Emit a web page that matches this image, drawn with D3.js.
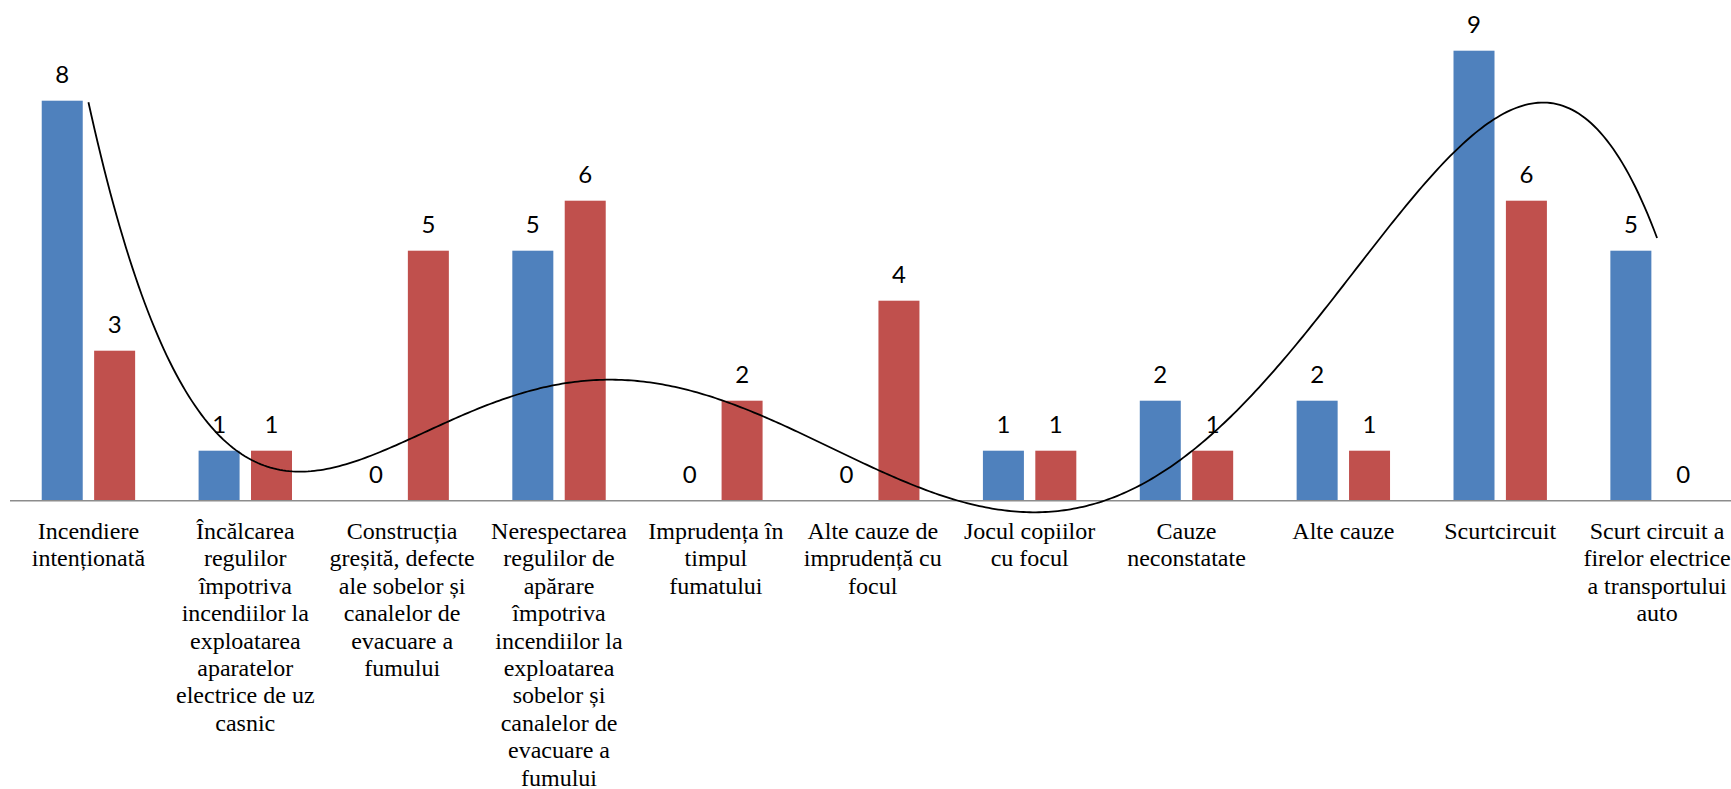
<!DOCTYPE html>
<html>
<head>
<meta charset="utf-8">
<script src="https://cdn.jsdelivr.net/npm/d3@7"></script>
<style>
  html, body { margin: 0; padding: 0; background: #fff; }
  svg { display: block; }
</style>
</head>
<body>
<svg id="chart" width="1731" height="789"></svg>
<script>
const categories = [
  "Incendiere\nintenționată",
  "Încălcarea\nregulilor\nîmpotriva\nincendiilor la\nexploatarea\naparatelor\nelectrice de uz\ncasnic",
  "Construcția\ngreșită, defecte\nale sobelor și\ncanalelor de\nevacuare a\nfumului",
  "Nerespectarea\nregulilor de\napărare\nîmpotriva\nincendiilor la\nexploatarea\nsobelor și\ncanalelor de\nevacuare a\nfumului",
  "Imprudența în\ntimpul\nfumatului",
  "Alte cauze de\nimprudență cu\nfocul",
  "Jocul copiilor\ncu focul",
  "Cauze\nneconstatate",
  "Alte cauze",
  "Scurtcircuit",
  "Scurt circuit a\nfirelor electrice\na transportului\nauto"
];
const seriesBlue = [8, 1, 0, 5, 0, 0, 1, 2, 2, 9, 5];
const seriesRed  = [3, 1, 5, 6, 2, 4, 1, 1, 1, 6, 0];
const seriesKeys = ["blue", "red"];
const seriesColors = ["#4F81BD", "#C0504D"];
const trendDegree = 6;

const svg = d3.select("#chart");
const plotLeft = 10, plotRight = 1735.5;
const y0 = 500.7, y9 = 50.7; // pixel rows for values 0 and 9

const x = d3.scaleBand().domain(categories).range([plotLeft, plotRight]).paddingInner(0).paddingOuter(0);
const xSub = d3.scalePoint().domain(seriesKeys).range([-26.2, 26.2]);
const barW = 41;
const y = d3.scaleLinear().domain([0, 9]).range([y0, y9]);

const data = [];
categories.forEach((c, i) => {
  [seriesBlue, seriesRed].forEach((s, k) => {
    data.push({cat: c, key: seriesKeys[k], value: s[i], color: seriesColors[k]});
  });
});

const cx = d => x(d.cat) + x.bandwidth() / 2 + xSub(d.key);

svg.append("g").selectAll("rect").data(data).join("rect")
  .attr("x", d => cx(d) - barW / 2)
  .attr("y", d => y(d.value))
  .attr("width", barW)
  .attr("height", d => y(0) - y(d.value))
  .attr("fill", d => d.color);

// axis
const axis = d3.axisBottom(x).tickSize(0).tickFormat("");
const gAx = svg.append("g").attr("transform", `translate(0,${y0})`).call(axis);
gAx.select(".domain").attr("stroke", "#8c8c8c").attr("stroke-width", 1.6).attr("d", `M${plotLeft},0H${plotRight}`);

// category labels
const gl = svg.append("g");
categories.forEach(c => {
  const t = gl.append("text")
    .attr("x", x(c) + x.bandwidth() / 2)
    .attr("y", 539)
    .attr("text-anchor", "middle")
    .attr("font-family", "'Liberation Serif', 'Times New Roman', serif")
    .attr("font-size", 24)
    .attr("fill", "#000");
  c.split("\n").forEach((ln, j) => {
    t.append("tspan").attr("x", x(c) + x.bandwidth() / 2).attr("dy", j === 0 ? 0 : 27.4).text(ln);
  });
});

// data labels
svg.append("g").selectAll("text").data(data).join("text")
  .attr("x", d => cx(d))
  .attr("y", d => y(d.value) - 18)
  .attr("text-anchor", "middle")
  .attr("font-family", "Lato, 'Liberation Sans', sans-serif")
  .attr("font-size", 24)
  .attr("fill", "#000")
  .text(d => d.value);

// polynomial trendline (least squares) on blue series
function polyfit(xs, ys, deg) {
  const n = deg + 1;
  const A = Array.from({length: n}, () => new Array(n + 1).fill(0));
  xs.forEach((xv, i) => {
    for (let r = 0; r < n; r++) {
      for (let c = 0; c < n; c++) A[r][c] += Math.pow(xv, r + c);
      A[r][n] += Math.pow(xv, r) * ys[i];
    }
  });
  for (let col = 0; col < n; col++) {
    let p = col;
    for (let r = col + 1; r < n; r++) if (Math.abs(A[r][col]) > Math.abs(A[p][col])) p = r;
    [A[col], A[p]] = [A[p], A[col]];
    for (let r = 0; r < n; r++) {
      if (r === col) continue;
      const f = A[r][col] / A[col][col];
      for (let c = col; c <= n; c++) A[r][c] -= f * A[col][c];
    }
  }
  return A.map((row, i) => row[n] / row[i]);
}
function drawTrend(deg, color) {
  const idx = seriesBlue.map((_, i) => i + 1);
  const ts = idx.map(v => (v - 6) / 5);
  const coef = polyfit(ts, seriesBlue, deg);
  const f = t => coef.reduce((s, a, k) => s + a * Math.pow(t, k), 0);
  const step = x.step();
  const first = x(categories[0]) + x.bandwidth() / 2;
  const pts = d3.range(1, 11.0001, 0.02).map(v => [first + (v - 1) * step, y(f((v - 6) / 5))]);
  svg.append("path").attr("d", d3.line()(pts)).attr("fill", "none").attr("stroke", color).attr("stroke-width", 1.8);
}
drawTrend(trendDegree, "#000");
</script>
</body>
</html>
